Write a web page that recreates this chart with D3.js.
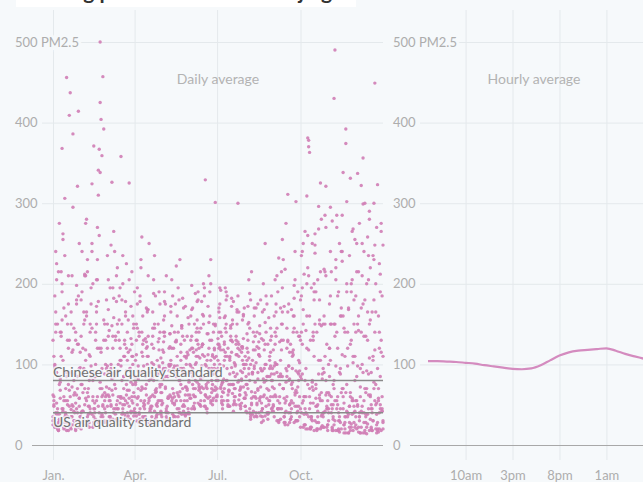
<!DOCTYPE html>
<html>
<head>
<meta charset="utf-8">
<script src="https://cdn.jsdelivr.net/npm/d3@7"></script>
<style>
  body { margin: 0; background: #f6f9fb; font-family: Lato, "Open Sans", sans-serif; }
  svg { display: block; }
</style>
</head>
<body>
<svg id="chart" width="643" height="482"></svg>
<script>
// daily PM2.5, one array per month, one block per year
const pm2010 = [
  [62,110,185,240,38,20,28,75,140,215,368,45,22,35,160,456,55,18,26,90,150,210,48,30,65,130,175,40,22,58,96],
  [135,190,42,25,70,118,165,230,60,28,45,98,324,80,35,52,140,205,270,48,30,500,115,38,62,155,88,40],
  [72,120,168,55,30,95,326,62,40,85,130,210,150,45,25,60,105,180,235,70,38,55,92,140,115,48,32,78,125,160,65],
  [40,85,130,175,60,28,45,90,140,110,52,35,70,120,165,210,58,25,48,95,135,80,42,30,66,105,150,190,75,38],
  [55,92,128,160,70,35,48,85,120,98,60,30,52,95,140,175,222,65,28,45,80,115,145,90,50,38,72,108,135,62,40],
  [62,98,135,170,88,45,60,110,145,180,120,70,48,85,125,160,195,329,75,40,58,95,130,105,65,50,88,120,150,80],
  [70,105,140,175,118,60,45,82,125,160,190,95,55,68,110,148,130,75,42,60,98,135,165,120,80,50,72,115,155,100,58],
  [48,85,120,150,95,40,32,66,105,140,170,78,36,50,90,128,110,60,28,45,82,118,152,185,70,38,55,95,130,88,42],
  [60,98,140,175,210,55,30,45,88,130,165,70,35,52,95,145,311,80,28,40,75,115,160,198,62,30,48,90,135,102],
  [85,140,195,250,60,25,40,120,381,210,45,20,35,80,135,180,238,70,28,50,296,150,55,22,38,95,160,215,270,48,25],
  [65,120,185,40,22,75,150,490,230,45,18,30,90,160,240,285,60,25,110,392,190,35,15,48,125,200,265,55,28,80],
  [140,215,50,22,35,95,170,250,356,40,15,28,70,130,205,280,60,20,45,110,230,449,75,25,18,55,120,190,265,42,30]
];
const pm2011 = [
  [30,55,98,150,205,45,20,38,82,135,190,255,60,306,40,18,35,75,130,437,165,50,25,42,88,140,198,70,30,48,115],
  [180,240,65,30,50,105,160,215,48,22,40,90,145,200,371,85,32,55,120,178,260,70,35,60,457,130,45,28],
  [95,150,205,60,35,50,88,135,182,240,70,32,45,100,155,195,358,80,40,58,110,165,120,52,30,68,118,172,215,75,42],
  [60,105,150,195,82,40,32,68,115,160,130,55,30,75,122,168,250,90,45,35,62,100,145,185,70,38,55,96,140,108],
  [75,118,155,190,85,42,30,58,98,138,172,205,70,35,50,92,130,110,62,40,66,105,148,182,95,48,36,72,115,158,80],
  [90,130,168,120,70,52,80,118,155,190,140,85,55,72,112,150,185,100,60,45,78,120,160,200,130,75,58,95,301,110],
  [85,125,165,195,140,75,50,65,105,145,180,110,62,48,88,130,172,150,90,55,70,112,150,185,125,68,45,82,122,160,95],
  [65,100,138,172,205,80,38,50,90,128,160,118,58,35,70,112,148,180,92,45,30,62,100,140,175,85,40,55,98,135,72],
  [50,88,125,165,100,45,28,60,105,150,195,230,58,25,42,85,130,175,115,52,35,70,118,160,205,302,65,30,48,92],
  [130,185,240,55,25,45,95,160,220,378,70,22,35,78,140,200,262,58,20,42,105,180,325,65,24,40,90,150,210,45,18],
  [40,85,150,215,278,50,430,30,18,55,120,190,250,45,20,70,338,145,35,15,42,98,168,235,60,22,38,110,180,255],
  [55,20,337,160,35,15,42,100,175,240,300,65,22,38,88,150,220,50,18,30,78,140,200,270,323,58,20,45,115,185,248]
];
const pm2012 = [
  [130,48,22,40,90,150,215,275,58,25,45,105,170,235,70,28,50,120,409,60,20,35,386,145,40,18,62,125,185,250,35],
  [75,28,42,95,155,210,280,65,30,48,110,175,240,55,25,40,85,150,205,310,367,425,90,359,50,28,65,130],
  [180,235,62,35,55,100,148,195,265,75,38,50,92,140,185,120,58,32,45,85,130,178,225,68,36,325,95,42,60,110,150],
  [85,40,30,58,98,140,185,230,72,35,48,90,132,170,110,52,28,45,82,125,165,205,60,32,50,88,128,98,55,42],
  [65,102,140,178,95,45,32,60,100,138,165,120,58,36,52,90,128,160,195,80,40,55,95,135,170,110,62,38,70,112,150],
  [100,58,45,75,115,150,188,130,78,52,68,108,145,178,125,70,48,62,98,138,172,210,90,55,70,110,150,118,72,60],
  [92,132,170,122,72,55,78,118,158,195,140,80,50,66,105,145,182,128,75,52,85,125,168,300,110,62,48,80,120,162,100],
  [58,42,75,115,152,188,100,52,38,60,98,135,170,122,68,40,55,95,132,165,200,78,36,48,85,125,158,110,60,45,80],
  [118,160,205,60,30,45,85,128,170,215,255,70,28,40,78,120,165,98,50,32,55,95,140,182,240,68,30,42,88,135],
  [180,235,52,22,38,80,142,200,260,370,60,20,32,72,130,190,248,48,18,35,88,155,215,280,55,22,40,110,321,65,25],
  [45,120,295,60,20,35,80,150,220,285,50,18,30,95,170,240,70,25,140,374,200,40,15,28,65,130,205,268,48,22],
  [35,85,150,215,275,60,322,40,15,28,70,135,200,258,45,18,32,90,165,235,300,55,20,38,95,160,225,50,18,42,110]
];
const pm2013 = [
  [25,50,100,165,225,40,18,32,78,140,200,262,55,22,38,85,150,210,68,26,44,115,295,80,30,52,180,321,414,95,35],
  [20,42,88,150,212,275,55,24,38,80,140,195,250,60,28,45,100,165,230,341,120,338,404,70,35,392,150,60],
  [30,48,90,142,195,248,68,32,45,88,135,178,220,60,30,52,98,150,200,110,50,35,62,105,155,205,85,40,55,100,145],
  [190,75,36,50,92,135,178,220,258,70,32,45,85,128,168,110,55,30,60,102,145,188,235,68,34,48,90,132,175,65],
  [35,52,95,135,175,210,85,40,30,62,105,148,185,120,60,35,55,98,140,180,230,75,38,48,88,130,172,100,55,40,78],
  [118,160,198,85,48,60,100,140,178,125,72,50,82,122,162,200,110,62,45,70,112,152,190,230,95,55,68,108,148,90],
  [60,80,120,158,192,135,78,55,70,110,150,185,120,68,48,75,115,155,178,102,60,50,88,128,165,118,70,52,90,132,170],
  [110,62,40,70,108,145,180,215,88,42,35,65,102,140,175,120,58,36,52,92,130,168,250,80,40,32,68,105,145,185,95],
  [48,35,62,100,145,190,232,75,32,45,85,130,172,218,275,60,25,40,82,125,168,110,52,28,48,92,140,190,80,35],
  [22,40,88,150,212,265,60,309,20,35,363,130,195,250,52,18,30,75,140,205,268,58,20,36,82,150,218,285,62,22,45],
  [100,175,240,50,18,32,70,135,205,270,60,20,35,88,160,228,45,15,28,65,302,140,38,22,331,190,55,18,40,110],
  [185,250,48,16,30,72,140,210,299,55,18,35,92,165,235,290,62,22,40,105,180,248,50,15,28,70,140,212,275,45,20]
];
const pm2014 = [
  [35,60,95,140,52,25,18,30,68,110,155,42,20,28,55,90,130,175,48,22,35,72,118,62,30,20,45,85,125,58,28],
  [40,75,120,165,210,58,25,35,70,112,150,85,38,22,45,88,130,172,60,28,40,78,120,95,48,30,55,100],
  [62,98,135,70,35,48,82,120,158,90,45,30,55,92,130,105,60,38,50,85,125,160,75,40,32,58,95,132,110,52,36],
  [45,78,112,145,70,38,30,55,90,125,98,50,35,62,100,135,80,42,28,48,85,120,150,65,36,52,88,118,72,40],
  [50,82,115,140,72,40,32,58,92,122,100,55,38,64,98,128,85,45,35,60,95,125,148,70,42,55,88,110,68,45,38],
  [58,90,120,95,62,45,70,102,130,110,75,50,65,98,125,85,55,48,72,105,138,92,60,52,80,112,140,100,68,55],
  [62,95,125,100,70,52,66,98,128,115,80,55,48,75,108,135,96,64,50,70,100,130,112,78,56,62,92,122,105,72,58],
  [48,75,105,130,88,45,35,58,90,118,95,60,40,52,82,112,138,72,42,35,60,95,125,100,58,40,50,85,115,80,46],
  [42,70,102,135,90,45,30,52,85,118,150,70,35,28,55,92,128,98,50,32,45,78,112,145,65,30,40,72,105,60],
  [45,82,125,168,60,25,20,38,75,118,160,52,22,30,68,110,150,190,48,20,28,62,105,148,88,35,22,42,80,125,55],
  [30,62,105,150,45,18,25,55,98,140,185,40,16,28,65,112,160,52,20,35,75,120,170,48,18,26,58,102,150,42],
  [25,55,98,142,40,15,22,48,90,135,180,38,14,26,62,108,155,45,18,30,70,118,165,52,20,16,40,85,130,60,28]
];

// hourly average, starting at 6am
const hours = d3.range(24);
const hourlyAvg = [104,104,103.5,103,102,101,99,97.5,96,94.5,94,95,99,105,111,115,117,118,119,120,117,113,110,107];
const hourTicks = [4, 9, 14, 19];
const hourLabels = ["10am", "3pm", "8pm", "1am"];

const monthTicks = [0, 3, 6, 9];
const monthLabels = ["Jan.", "Apr.", "Jul.", "Oct."];
const yTicks = [0, 100, 200, 300, 400, 500];
const standards = [
  { name: "Chinese air quality standard", value: 80 },
  { name: "US air quality standard", value: 40 }
];

const svg = d3.select("#chart");
const bg = "#f6f9fb";
const grid = "#e4e9ec";
const pink = "#d07db5";
const tickGray = "#adadad";

const points = [];
[pm2010, pm2011, pm2012, pm2013, pm2014].forEach(yr =>
  yr.forEach((month, m) => month.forEach((v, i) => points.push({ date: new Date(2001, m, i + 1), v }))));

// title (mostly cut off at the top)
svg.append("rect").attr("x", 16).attr("y", 0).attr("width", 340).attr("height", 7).attr("fill", "#fff");
svg.append("text")
  .attr("x", 16).attr("y", -1)
  .style("font-size", "21px").style("font-weight", "700").attr("fill", "#333")
  .text("Tracking pollution levels in Beijing");

const y = d3.scaleLinear().domain([0, 500]).range([445, 42]);
const x = d3.scaleTime().domain([new Date(2001, 0, 1), new Date(2001, 11, 31)]).range([53, 383]);
const xh = d3.scaleLinear().domain([0, 23]).range([428, 644]);

const yFmt = d => d === 500 ? "500 PM2.5" : d;

function yAxisAt(left, right, labelX, zeroFrom) {
  const g = svg.append("g")
    .attr("transform", `translate(${right},0)`)
    .call(d3.axisLeft(y).tickValues(yTicks).tickSize(right - left).tickFormat(yFmt));
  g.select(".domain").remove();
  g.selectAll(".tick line")
    .attr("stroke", d => d === 0 ? "#a8a8a8" : grid)
    .attr("x2", d => d === 0 ? -(right - zeroFrom) : -(right - left));
  g.selectAll(".tick text")
    .attr("x", labelX - right)
    .attr("text-anchor", "start")
    .attr("fill", tickGray)
    .style("font-family", "Lato, sans-serif")
    .style("font-size", "13px")
    .attr("stroke", bg).attr("stroke-width", 6).attr("paint-order", "stroke");
  return g;
}

function xAxisAt(scale, ticks, labels) {
  const g = svg.append("g")
    .attr("transform", "translate(0,460)")
    .call(d3.axisBottom(scale).tickValues(ticks).tickSize(-450).tickPadding(11)
      .tickFormat((d, i) => labels[i]));
  g.select(".domain").remove();
  g.selectAll(".tick line").attr("stroke", grid);
  g.selectAll(".tick text")
    .attr("fill", tickGray)
    .style("font-family", "Lato, sans-serif")
    .style("font-size", "13px");
  return g;
}

xAxisAt(x, monthTicks.map(m => new Date(2001, m, 1)), monthLabels);
xAxisAt(xh, hourTicks, hourLabels);
yAxisAt(42, 383, 15, 32);
yAxisAt(420, 643, 393, 410);

// daily dots
svg.append("g")
  .selectAll("circle")
  .data(points)
  .join("circle")
  .attr("cx", d => x(d.date))
  .attr("cy", d => y(d.v))
  .attr("r", 1.7)
  .attr("fill", pink)
  .attr("fill-opacity", 0.9);

// air quality standards
standards.forEach((s, i) => {
  svg.append("line")
    .attr("x1", 53).attr("x2", 383)
    .attr("y1", y(s.value)).attr("y2", y(s.value))
    .attr("stroke", "#8a8a8a").attr("stroke-width", 1.5);
  svg.append("text")
    .attr("x", 53)
    .attr("y", i === 0 ? y(s.value) - 4 : y(s.value) + 14)
    .attr("fill", "#707070")
    .style("font-size", "14px")
    .attr("stroke", bg).attr("stroke-width", 3).attr("stroke-opacity", 0.8).attr("paint-order", "stroke")
    .text(s.name);
});

// hourly line
svg.append("path")
  .datum(hours)
  .attr("fill", "none")
  .attr("stroke", "#d48bbf")
  .attr("stroke-width", 2.2)
  .attr("d", d3.line().x(h => xh(h)).y(h => y(hourlyAvg[h])).curve(d3.curveMonotoneX));

// panel titles
[["Daily average", 218], ["Hourly average", 534]].forEach(([t, cx]) => {
  svg.append("text")
    .attr("x", cx).attr("y", 84)
    .attr("text-anchor", "middle")
    .attr("fill", "#b3b3b3")
    .style("font-size", "14px")
    .text(t);
});
</script>
</body>
</html>
